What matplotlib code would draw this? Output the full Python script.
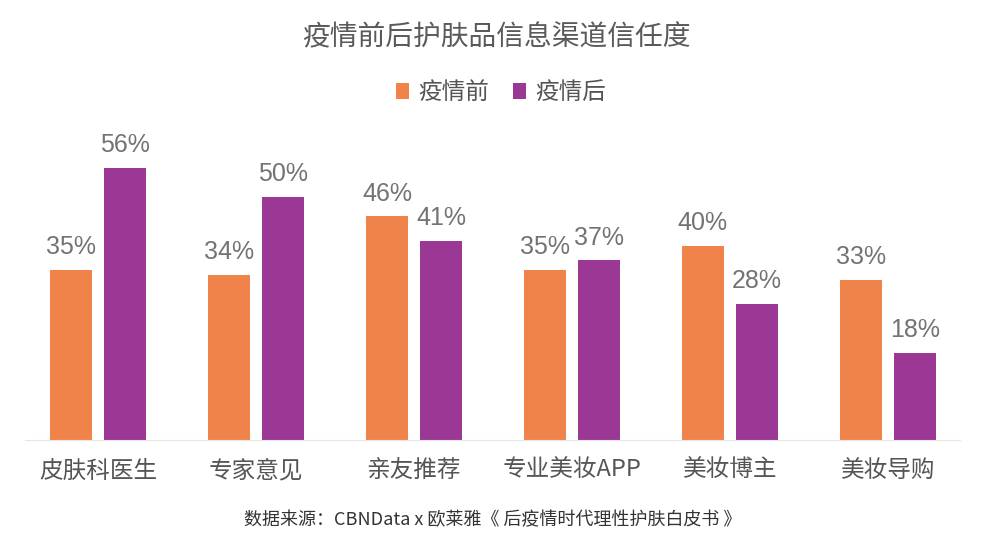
import numpy as np
import matplotlib
matplotlib.use("Agg")
import matplotlib.pyplot as plt

plt.rcParams['font.family'] = ['Noto Sans CJK SC', 'DejaVu Sans']

categories = ['皮肤科医生', '专家意见', '亲友推荐', '专业美妆APP', '美妆博主', '美妆导购']
before = [35, 34, 46, 35, 40, 33]
after = [56, 50, 41, 37, 28, 18]
series_names = ['疫情前', '疫情后']

orange = '#F0834A'
purple = '#9B3795'

fig = plt.figure(figsize=(9.86, 5.56), dpi=100)
ax = fig.add_axes([0.0254, 0.2086, 0.948, 0.5576])

x = np.arange(len(categories))
w = 0.266
off = 0.171
b1 = ax.bar(x - off, before, w, color=orange, label=series_names[0])
b2 = ax.bar(x + off, after, w, color=purple, label=series_names[1])

for bars, vals in ((b1, before), (b2, after)):
    for r, v in zip(bars, vals):
        ax.text(r.get_x() + r.get_width() / 2, v + 2.2, f'{v}%',
                ha='center', va='bottom', fontsize=18, color='#737373',
                family=['Liberation Sans', 'DejaVu Sans'])

ax.set_xlim(-0.462, 5.456)
ax.set_ylim(0, 63.8)
for s in ['top', 'right', 'left']:
    ax.spines[s].set_visible(False)
ax.spines['bottom'].set_color('#e6e6e6')
ax.set_yticks([])
ax.set_xticks(x)
ax.set_xticklabels(categories, fontsize=17, color='#555555')
ax.tick_params(axis='x', length=0, pad=14)

fig.text(0.503, 0.932, '疫情前后护肤品信息渠道信任度', ha='center', va='center',
         fontsize=20, color='#5a5a5a')

leg = fig.legend(handles=[b1, b2], loc='center', bbox_to_anchor=(0.508, 0.833),
                 ncol=2, frameon=False, fontsize=17, handlelength=0.55,
                 handleheight=0.7, handletextpad=0.4, columnspacing=1.0)
for t in leg.get_texts():
    t.set_color('#555555')

fig.text(0.5, 0.065, '数据来源：CBNData x 欧莱雅《 后疫情时代理性护肤白皮书 》',
         ha='center', va='center', fontsize=13, color='#333333')

fig.savefig('out.png', dpi=100)
